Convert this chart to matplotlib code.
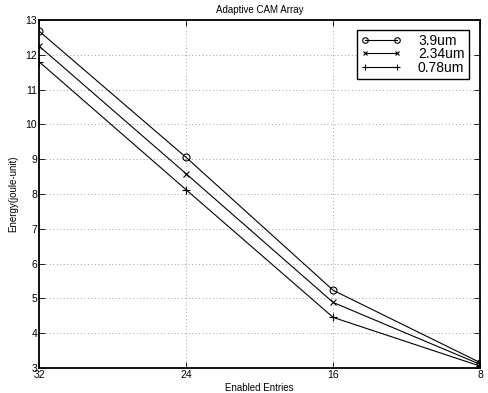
import matplotlib
matplotlib.use('Agg')
import matplotlib.pyplot as plt

plt.rcParams['font.family'] = ['Liberation Sans', 'DejaVu Sans']

entries = [32, 24, 16, 8]
energy_39 = [12.68, 9.05, 5.23, 3.15]
energy_234 = [12.25, 8.58, 4.88, 3.1]
energy_078 = [11.8, 8.12, 4.45, 3.05]
labels = ['3.9um', '2.34um', '0.78um']

fig = plt.figure(figsize=(4.89, 3.93), dpi=100)
ax = fig.add_axes([0.08, 0.064, 0.902, 0.885])

ax.plot(entries, energy_39, '-o', color='black', lw=0.8, ms=5, mfc='none', mew=0.8, label=labels[0])
ax.plot(entries, energy_234, '-x', color='black', lw=0.8, ms=4, mew=0.8, label=labels[1])
ax.plot(entries, energy_078, '-+', color='black', lw=0.8, ms=6, mew=0.8, label=labels[2])

ax.set_xlim(32, 8)
ax.set_ylim(3, 13)
ax.set_xticks(entries)
ax.set_yticks(range(3, 14))
ax.tick_params(direction='in', labelsize=7.5, length=4, width=0.6, top=True, right=True, pad=1.5)
ax.grid(True, linestyle=(0, (1, 4)), color='black', lw=0.5, alpha=0.7)
for s in ax.spines.values():
    s.set_linewidth(1.3)

ax.set_title('Adaptive CAM Array', fontsize=7, pad=5)
ax.set_xlabel('Enabled Entries', fontsize=7, labelpad=2)
ax.set_ylabel('Energy(joule-unit)', fontsize=7, labelpad=5)

leg = ax.legend(loc='upper right', fontsize=10, fancybox=False, framealpha=1,
                edgecolor='black', handlelength=2.9, borderpad=0.3, numpoints=2,
                labelspacing=-0.05, handletextpad=1.2, markerscale=0.8,
                borderaxespad=0.2, bbox_to_anchor=(0.98, 0.98))
leg.get_frame().set_linewidth(1.0)

fig.savefig('out.png', dpi=100)
